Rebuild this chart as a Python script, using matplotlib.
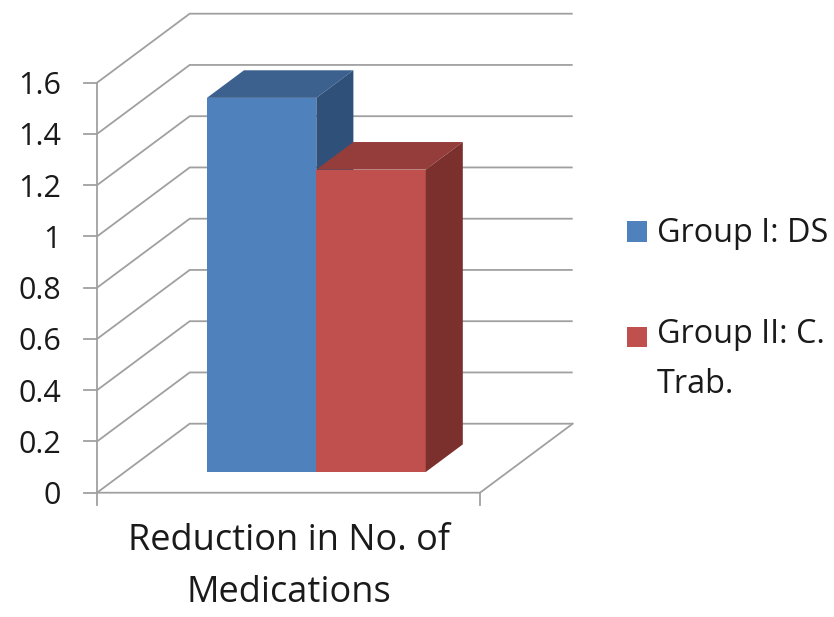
import numpy as np
import matplotlib.pyplot as plt
from matplotlib.patches import Polygon, Rectangle

category = "Reduction in No. of\nMedications"
series_names = ["Group I: DS", "Group II: C.\nTrab."]
values = [1.46, 1.18]
y_ticks = [0, 0.2, 0.4, 0.6, 0.8, 1, 1.2, 1.4, 1.6]
y_tick_labels = ["0", "0.2", "0.4", "0.6", "0.8", "1", "1.2", "1.4", "1.6"]

front_colors = ["#4F81BD", "#C0504D"]
top_colors = ["#3C618F", "#943D3A"]
side_colors = ["#2F5179", "#7B302E"]
grid_color = "#A0A0A0"

plt.rcParams['font.family'] = ['Open Sans', 'DejaVu Sans']
FS_TICK = 22
FS_CAT = 26
FS_LEG = 23.3

W, H = 834, 617
fig = plt.figure(figsize=(W / 100, H / 100), dpi=100)
ax = fig.add_axes([0, 0, 1, 1])
ax.axis('off')

# front plane of the box in pixels, used to set up the data scale
x0_px, x1_px = 97, 480
y0_px = 492.7
px_per_unit = 256.25
xu = x1_px - x0_px
ax.set_xlim(-x0_px / xu, (W - x0_px) / xu)
ax.set_ylim(-(H - y0_px) / px_per_unit, y0_px / px_per_unit)

# oblique depth offset (full depth of the chart)
ddx = 92.7 / xu
ddy = 69 / px_per_unit


def proj(x, y, f):
    return x + f * ddx, y + f * ddy


# walls and gridlines
for v in y_ticks:
    ax.plot([0, ddx, 1 + ddx], [v, v + ddy, v + ddy], color=grid_color,
            lw=1.3, zorder=1, solid_joinstyle='miter', solid_capstyle='butt')
ax.plot([0, 1, 1 + ddx], [0, 0, ddy], color=grid_color, lw=1.3, zorder=1,
        solid_joinstyle='miter')
ax.plot([0, 0], [0, max(y_ticks)], color=grid_color, lw=1.3, zorder=1)

tick_len = 13 / xu
for v, lab in zip(y_ticks, y_tick_labels):
    ax.plot([-tick_len, 0], [v, v], color=grid_color, lw=1.3, zorder=1)
    ax.text(-36 / xu, v, lab, ha='right', va='center_baseline', fontsize=FS_TICK,
            color='#1a1a1a')
for xc in [0, 1]:
    ax.plot([xc, xc], [0, -12 / px_per_unit], color=grid_color, lw=1.3, zorder=1)

# 3D bars: gap width 150%, gap depth 150%
n = len(values)
gap = 1.5
w = 1 / (n + gap)
start = gap * w / 2
f0, f1 = 0.3, 0.7
for i, h in enumerate(values):
    xl = start + i * w
    xr = xl + w
    front = [proj(xl, 0, f0), proj(xr, 0, f0), proj(xr, h, f0), proj(xl, h, f0)]
    top = [proj(xl, h, f0), proj(xr, h, f0), proj(xr, h, f1), proj(xl, h, f1)]
    side = [proj(xr, 0, f0), proj(xr, 0, f1), proj(xr, h, f1), proj(xr, h, f0)]
    z = 2 + i
    ax.add_patch(Polygon(front, closed=True, fc=front_colors[i], ec='none', zorder=z))
    ax.add_patch(Polygon(top, closed=True, fc=top_colors[i], ec='none', zorder=z))
    ax.add_patch(Polygon(side, closed=True, fc=side_colors[i], ec='none', zorder=z))

# category label (baseline of last line)
ax.text(0.5, -(601.7 - y0_px) / px_per_unit, category, ha='center', va='baseline',
        fontsize=FS_CAT, linespacing=1.6, color='#1a1a1a')

# legend
leg_sq = [242, 347]
leg_base = [242, 393]
for i, name in enumerate(series_names):
    ax.add_patch(Rectangle((626.7 / W, 1 - leg_sq[i] / H), 20 / W, 20.5 / H,
                           transform=ax.transAxes, fc=front_colors[i], ec='none'))
    ax.text(657 / W, 1 - leg_base[i] / H, name, transform=ax.transAxes,
            ha='left', va='baseline', fontsize=FS_LEG, linespacing=1.68,
            color='#1a1a1a')

fig.savefig('out.png', dpi=100)
